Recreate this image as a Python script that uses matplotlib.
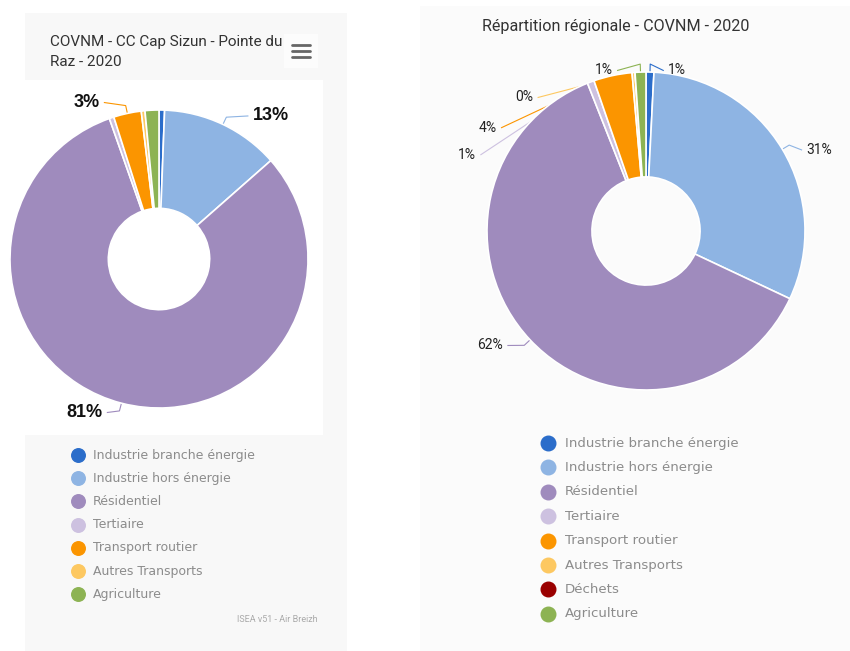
import matplotlib
matplotlib.use("Agg")
import numpy as np
import matplotlib.pyplot as plt
from matplotlib.patches import Rectangle

W, H = 850, 651

# CC Cap Sizun - Pointe du Raz
secteurs_cc = ["Industrie branche énergie", "Industrie hors énergie", "Résidentiel",
               "Tertiaire", "Transport routier", "Autres Transports", "Agriculture"]
couleurs_cc = ["#2b6dca", "#8eb4e3", "#9f8bbd", "#cdc1e0", "#fb9500", "#fdc861", "#8db353"]
valeurs_cc = [0.6, 12.9, 81.0, 0.5, 3.0, 0.4, 1.5]

# Région
secteurs_reg = ["Industrie branche énergie", "Industrie hors énergie", "Résidentiel",
                "Tertiaire", "Transport routier", "Autres Transports", "Déchets", "Agriculture"]
couleurs_reg = ["#2b6dca", "#8eb4e3", "#9f8bbd", "#cdc1e0", "#fb9500", "#fdc861", "#9a0000", "#8db353"]
valeurs_reg = [0.8, 31.2, 62.0, 0.7, 3.9, 0.3, 0.0, 1.1]

# position des étiquettes (unités du rayon), None = pas d'étiquette
pos_cc = [None, (0.63, 0.96), (-0.38, -1.03), None, (-0.40, 1.05), None, None]
pos_reg = [(0.14, 1.01), (1.01, 0.51), (-0.90, -0.72), (-1.07, 0.48),
           (-0.94, 0.65), (-0.71, 0.84), None, (-0.21, 1.01)]

TITRE_FONT = ["Roboto", "DejaVu Sans"]

fig = plt.figure(figsize=(W / 100, H / 100), dpi=100)
fig.patch.set_facecolor("white")

# fond, titres, légendes en pixels
bg = fig.add_axes([0, 0, 1, 1])
bg.set_xlim(0, W)
bg.set_ylim(H, 0)
bg.axis("off")

bg.add_patch(Rectangle((25, 13), 322, 640, color="#f8f8f8", lw=0))
bg.add_patch(Rectangle((25, 80), 298, 355, color="white", lw=0))
bg.add_patch(Rectangle((284, 34), 34, 34, color="#fcfcfc", lw=0))
bg.add_patch(Rectangle((420, 6), 430, 650, color="#fbfbfb", lw=0))

bg.text(50, 42, "COVNM - CC Cap Sizun - Pointe du", fontsize=11, color="#333333",
        family=TITRE_FONT, va="center", ha="left")
bg.text(50, 62, "Raz - 2020", fontsize=11, color="#333333",
        family=TITRE_FONT, va="center", ha="left")
bg.text(616, 27, "Répartition régionale - COVNM - 2020", fontsize=11.6, color="#333333",
        family=TITRE_FONT, va="center", ha="center")

# menu
for y in (45, 51, 57):
    bg.plot([292, 310], [y, y], color="#666666", lw=2.0, solid_capstyle="round")

# légendes
for i, (nom, c) in enumerate(zip(secteurs_cc, couleurs_cc)):
    y = 455 + i * 23.2
    bg.scatter(78, y, s=95, color=c, zorder=3)
    bg.text(93, y, nom, fontsize=9, color="#8c8c8c", va="center", ha="left")

for i, (nom, c) in enumerate(zip(secteurs_reg, couleurs_reg)):
    y = 443 + i * 24.4
    bg.scatter(548, y, s=110, color=c, zorder=3)
    bg.text(565, y, nom, fontsize=9.6, color="#8c8c8c", va="center", ha="left")

bg.text(318, 619, "ISEA v51 - Air Breizh", fontsize=6.5, color="#aaaaaa",
        family=TITRE_FONT, va="center", ha="right")


def donut(cx, cy, r, valeurs, couleurs, positions, style):
    ax = fig.add_axes([(cx - r) / W, (H - cy - r) / H, 2 * r / W, 2 * r / H])
    wedges, _ = ax.pie(valeurs, colors=couleurs, startangle=90, counterclock=False,
                       radius=1, wedgeprops=dict(width=0.66, edgecolor="white", linewidth=1.2))
    for w in wedges:
        w.set_zorder(2)
    ax.set_xlim(-1, 1)
    ax.set_ylim(-1, 1)
    ax.axis("off")

    total = sum(valeurs)
    pas = 8 / r
    for w, v, c, p in zip(wedges, valeurs, couleurs, positions):
        if p is None:
            continue
        a = np.radians((w.theta1 + w.theta2) / 2)
        x0, y0 = np.cos(a), np.sin(a)
        x1, y1 = (1 + pas) * x0, (1 + pas) * y0
        lx, ly = p
        cote = "left" if lx > 0 else "right"
        xe = lx - 5 / r if cote == "left" else lx + 5 / r
        if abs(ly - y1) * r > 12:
            # étiquette déplacée : trait direct, caché sous l'anneau
            xs, ys = [x0, xe], [y0, ly]
        else:
            xs, ys = [x0, x1, xe], [y0, y1, ly]
        ax.plot(xs, ys, color=c, lw=0.8, zorder=1, clip_on=False)
        ax.text(lx, ly, f"{round(100 * v / total)}%", ha=cote, va="center",
                clip_on=False, zorder=3, **style)
    return ax


donut(159, 259, 149, valeurs_cc, couleurs_cc, pos_cc,
      dict(fontsize=13, fontweight="bold", color="#111111", family="Liberation Sans"))
donut(646, 231, 159, valeurs_reg, couleurs_reg, pos_reg,
      dict(fontsize=10, color="#222222", family=TITRE_FONT))

fig.savefig("out.png", dpi=100)
